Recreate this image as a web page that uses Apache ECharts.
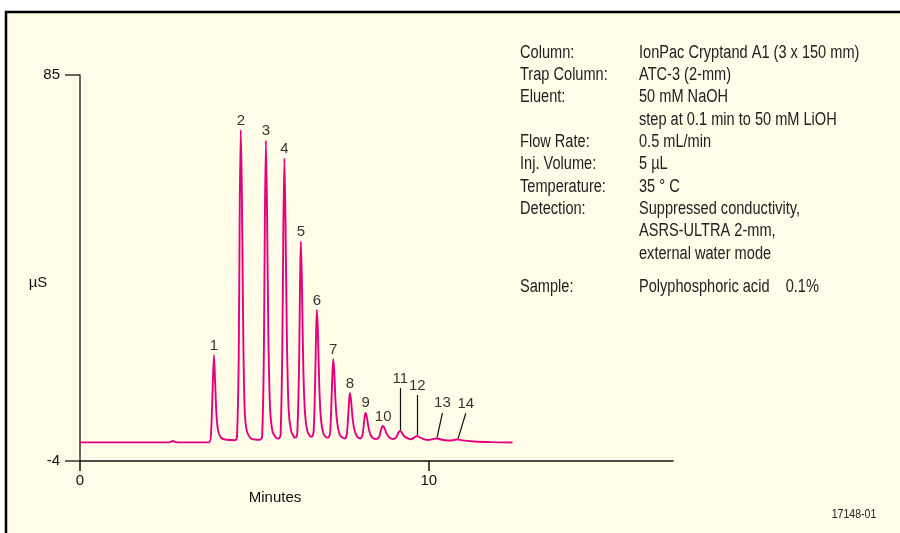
<!DOCTYPE html>
<html>
<head>
<meta charset="utf-8">
<script src="https://cdn.jsdelivr.net/npm/echarts@6/dist/echarts.min.js"></script>
<style>
  html, body { margin: 0; padding: 0; background: #fff; }
  #chart { width: 900px; height: 533px; }
</style>
</head>
<body>
<div id="chart"></div>
<script>
// trace: minutes / µS
var traceTime = [
  0.0, 2.55, 2.64, 2.67, 2.72, 2.80, 3.70,
  3.76, 3.80, 3.84, 3.87, 3.91, 3.96, 4.05, 4.20, 4.45,
  4.50, 4.55, 4.58, 4.61, 4.64, 4.68, 4.72, 4.78, 4.90, 5.15,
  5.22, 5.27, 5.30, 5.33, 5.36, 5.40, 5.45, 5.52, 5.62, 5.70,
  5.75, 5.80, 5.83, 5.86, 5.89, 5.93, 5.98, 6.05, 6.14, 6.19,
  6.23, 6.28, 6.31, 6.33, 6.36, 6.40, 6.45, 6.52, 6.60, 6.65,
  6.70, 6.74, 6.77, 6.79, 6.82, 6.86, 6.91, 6.98, 7.06, 7.12,
  7.17, 7.21, 7.24, 7.26, 7.29, 7.33, 7.38, 7.45, 7.54, 7.60,
  7.65, 7.69, 7.72, 7.74, 7.77, 7.82, 7.88, 7.96, 8.04,
  8.10, 8.14, 8.17, 8.19, 8.22, 8.27, 8.33, 8.42, 8.50,
  8.58, 8.63, 8.67, 8.69, 8.73, 8.79, 8.87, 8.97,
  9.07, 9.13, 9.18, 9.23, 9.30, 9.40, 9.48,
  9.58, 9.66, 9.73, 9.85, 9.98,
  10.12, 10.23, 10.35, 10.55,
  10.70, 10.83, 10.95, 11.3, 11.8, 12.4
];
var traceValue = [
  0.3, 0.3, 0.55, 0.65, 0.4, 0.3, 0.3,
  3, 12, 20.4, 15, 7, 3, 1.3, 0.9, 0.8,
  1.5, 20, 55, 72.3, 58, 25, 8, 3, 1.2, 0.9,
  1.5, 20, 52, 69.9, 55, 25, 8, 2.8, 1.4, 1.2,
  2, 22, 50, 65.8, 52, 25, 8, 3, 1.5, 1.4,
  2.5, 18, 38, 46.6, 38, 18, 7, 2.8, 1.7, 1.6,
  3, 14, 26, 30.8, 26, 13, 5.5, 2.3, 1.5, 1.4,
  2.5, 10, 17, 19.5, 16.5, 9, 4.5, 2, 1.3, 1.2,
  2.2, 6.5, 10.5, 11.7, 10, 5.5, 2.8, 1.5, 1.2,
  2, 4.8, 6.7, 7.1, 6.3, 3.8, 2, 1.2, 1.07,
  1.6, 3.2, 4.0, 4.1, 3.6, 2.3, 1.4, 1.07,
  1.5, 2.6, 2.9, 2.5, 1.7, 1.2, 1.0,
  1.4, 1.76, 1.5, 1.05, 0.84,
  1.05, 1.23, 0.95, 0.73,
  0.8, 1.0, 0.75, 0.5, 0.35, 0.25
];

// peak numbers and where they sit (11-14 sit on top of leader lines)
var peakNames = ['1', '2', '3', '4', '5', '6', '7', '8', '9', '10', '11', '12', '13', '14'];
var labelTime = [3.84, 4.61, 5.33, 5.86, 6.33, 6.79, 7.26, 7.74, 8.19, 8.69, 9.18, 9.67, 10.39, 11.06];
var labelValue = [20.4, 72.3, 69.9, 65.8, 46.6, 30.8, 19.5, 11.7, 7.1, 4.1, 12.8, 11.2, 7.1, 7.0];
var leaderFrom = [[9.18, 12.8], [9.67, 11.2], [10.39, 7.1], [11.06, 7.0]];
var leaderTo = [[9.18, 3.1], [9.67, 2.0], [10.24, 1.5], [10.84, 1.2]];

var xTicks = [0, 10];
var yTicks = [-4, 85];

var infoKeys = ['Column:', 'Trap Column:', 'Eluent:', '', 'Flow Rate:', 'Inj. Volume:', 'Temperature:', 'Detection:', '', '', 'Sample:'];
var infoValues = [
  'IonPac Cryptand A1 (3 x 150 mm)', 'ATC-3 (2-mm)', '50 mM NaOH', 'step at 0.1 min to 50 mM LiOH',
  '0.5 mL/min', '5 µL', '35 ° C', 'Suppressed conductivity,', 'ASRS-ULTRA 2-mm,',
  'external water mode', 'Polyphosphoric acid    0.1%'
];

var cream = '#FFFCE8';
var plainFont = '"Liberation Sans", Arial, sans-serif';

var trace = traceTime.map(function (t, i) { return [t, traceValue[i]]; });
var labelData = peakNames.map(function (n, i) {
  return { name: n, value: [labelTime[i], labelValue[i]] };
});
var leaders = leaderFrom.map(function (p, i) {
  return [{ coord: p }, { coord: leaderTo[i] }];
});

// no narrow font installed, so squeeze Liberation Sans horizontally
function narrowText(x, y, text, size, align) {
  return {
    type: 'text', x: x, y: y, scaleX: 0.81, silent: true,
    style: { text: text, font: size + 'px ' + plainFont, fill: '#222', textAlign: align || 'left', textVerticalAlign: 'middle' }
  };
}

var graphics = [
  {
    type: 'rect', z: -10, silent: true,
    shape: { x: 6, y: 12, width: 910, height: 540 },
    style: { fill: cream, stroke: '#000', lineWidth: 2.5 }
  },
  { type: 'text', x: 38, y: 283, style: { text: 'µS', font: '15px ' + plainFont, fill: '#111', textAlign: 'center', textVerticalAlign: 'middle' } },
  { type: 'text', x: 275, y: 498, style: { text: 'Minutes', font: '15px ' + plainFont, fill: '#111', textAlign: 'center', textVerticalAlign: 'middle' } },
  narrowText(854, 514, '17148-01', 13, 'center')
];
// info block, one line each
infoValues.forEach(function (v, i) {
  var y = 52.7 + i * 22.35 + (i === 10 ? 10.5 : 0);
  if (infoKeys[i]) graphics.push(narrowText(520, y, infoKeys[i], 18));
  graphics.push(narrowText(639, y, v, 18));
});

var chart = echarts.init(document.getElementById('chart'));
chart.setOption({
  backgroundColor: '#fff',
  animation: false,
  grid: { left: 80, right: 227, top: 75, bottom: 72, containLabel: false, outerBoundsMode: 'none' },
  xAxis: {
    type: 'value', min: 0, max: 17,
    splitLine: { show: false },
    axisLine: { onZero: false, lineStyle: { color: '#111', width: 1.5 } },
    axisTick: { length: 10, customValues: xTicks, lineStyle: { color: '#111', width: 1.5 } },
    axisLabel: { customValues: xTicks, margin: 12, color: '#111', fontSize: 15, fontFamily: plainFont }
  },
  yAxis: {
    type: 'value', min: -4, max: 85,
    splitLine: { show: false },
    axisLine: { show: true, onZero: false, lineStyle: { color: '#333', width: 1.5 } },
    axisTick: { show: true, length: 15, customValues: yTicks, lineStyle: { color: '#333', width: 1.5 } },
    axisLabel: { customValues: yTicks, margin: 20, color: '#111', fontSize: 15, fontFamily: plainFont }
  },
  graphic: graphics,
  series: [
    {
      type: 'line',
      data: trace,
      showSymbol: false,
      smooth: 0.25,
      lineStyle: { color: '#E5007E', width: 1.9 },
      z: 3
    },
    {
      type: 'scatter',
      data: labelData,
      symbolSize: 0,
      label: {
        show: true, position: 'top', distance: 2, formatter: '{b}',
        color: '#000', fontSize: 15, fontFamily: plainFont
      },
      markLine: {
        silent: true, symbol: 'none', animation: false,
        label: { show: false },
        lineStyle: { color: '#111', width: 1.2, type: 'solid' },
        data: leaders
      },
      z: 4
    }
  ]
});
</script>
</body>
</html>
